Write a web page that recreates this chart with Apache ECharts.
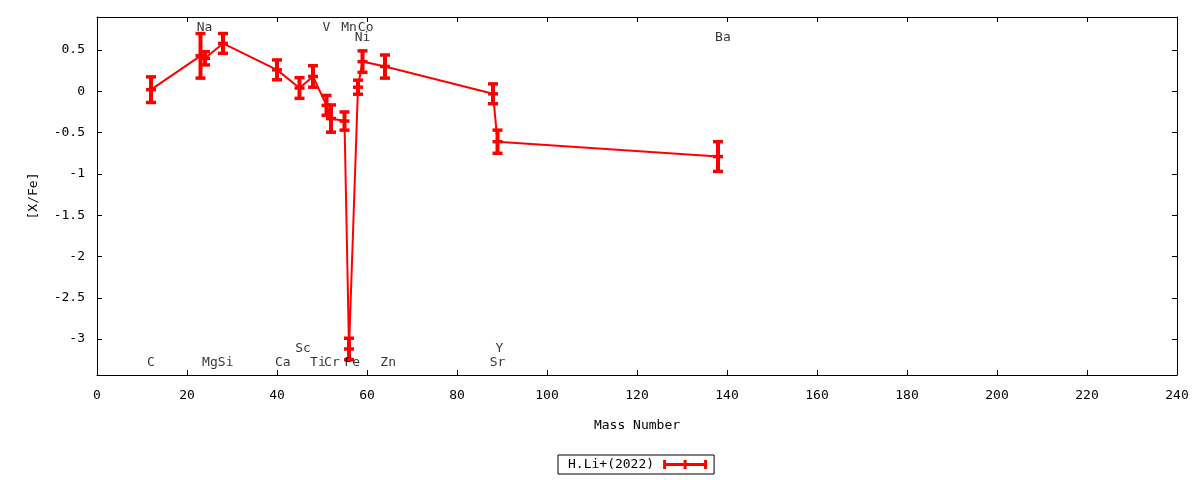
<!DOCTYPE html>
<html>
<head>
<meta charset="utf-8">
<script src="https://cdn.jsdelivr.net/npm/echarts@6/dist/echarts.min.js"></script>
<style>html,body{margin:0;padding:0;background:#fff}#c{width:1200px;height:480px}</style>
</head>
<body>
<div id="c"></div>
<script>
// ---- data ----
const seriesName = 'H.Li+(2022)';
const elements    = ['C','Na','Mg','Si','Ca','Sc','Ti','V','Cr','Mn','Fe','Ni','Co','Zn','Sr','Y','Ba'];
const massNumbers = [12, 23, 24, 28, 40, 45, 48, 51, 52, 55, 56, 58, 59, 64, 88, 89, 138];
const xFeValues   = [0.02, 0.43, 0.40, 0.58, 0.26, 0.04, 0.18, -0.17, -0.33, -0.36, -3.12, 0.05, 0.36, 0.30, -0.03, -0.61, -0.79];
const xFeErrors   = [0.155, 0.27, 0.08, 0.12, 0.12, 0.125, 0.13, 0.12, 0.165, 0.11, 0.13, 0.085, 0.13, 0.14, 0.12, 0.14, 0.18];
// element label placement (data coordinates)
const labelX = [12.0, 23.9, 25.1, 28.6, 41.3, 45.8, 49.1, 51.0, 52.2, 56.0, 56.7, 59.0, 59.7, 64.7, 89.0, 89.4, 139.1];
const labelY = [-3.29, 0.77, -3.29, -3.29, -3.29, -3.12, -3.29, 0.77, -3.29, 0.77, -3.29, 0.65, 0.77, -3.29, -3.29, -3.12, 0.65];
const yTickValues = [0.5, 0, -0.5, -1, -1.5, -2, -2.5, -3];
const xMin = 0, xMax = 240, xStep = 20;
const yMin = -3.435, yMax = 0.9;

const FONT = 'DejaVu Sans Mono';
const RED = '#ff0000';
const txt = {fontFamily: FONT, fontSize: 13, color: '#000'};

const chart = echarts.init(document.getElementById('c'), null, {renderer: 'canvas'});

const axisCommon = {
  axisLine: {show: true, onZero: false, lineStyle: {color: '#000', width: 1}},
  axisTick: {show: true, inside: true, length: 5, lineStyle: {color: '#000', width: 1}},
  splitLine: {show: false}
};

const option = {
  backgroundColor: '#fff',
  animation: false,
  grid: {left: 97, right: 23, top: 17, bottom: 105, containLabel: false},
  legend: {
    left: 558, top: 455,
    align: 'right',
    orient: 'horizontal',
    borderColor: '#000', borderWidth: 1, borderRadius: 0,
    padding: [3, 7, 3, 10],
    itemWidth: 44, itemHeight: 9,
    textStyle: Object.assign({padding: [0, 4, 0, 0]}, txt),
    itemStyle: {color: RED, borderWidth: 0},
    selectedMode: false,
    data: [{name: seriesName, icon: 'path://M0 0 L3 0 L3 3 L20.5 3 L20.5 0 L23.5 0 L23.5 3 L41 3 L41 0 L44 0 L44 9 L41 9 L41 6 L23.5 6 L23.5 9 L20.5 9 L20.5 6 L3 6 L3 9 L0 9 Z'}]
  },
  xAxis: [
    Object.assign({}, axisCommon, {
      type: 'value', min: xMin, max: xMax, interval: xStep, position: 'bottom',
      axisLabel: Object.assign({margin: 14}, txt),
      name: 'Mass Number', nameLocation: 'middle', nameGap: 44,
      nameTextStyle: Object.assign({}, txt)
    }),
    Object.assign({}, axisCommon, {
      type: 'value', min: xMin, max: xMax, interval: xStep, position: 'top',
      axisLabel: {show: false}
    })
  ],
  yAxis: [
    Object.assign({}, axisCommon, {
      type: 'value', min: yMin, max: yMax, position: 'left',
      axisTick: Object.assign({}, axisCommon.axisTick, {customValues: yTickValues}),
      axisLabel: Object.assign({margin: 12, customValues: yTickValues}, txt),
      name: '[X/Fe]', nameLocation: 'middle', nameGap: 57, nameRotate: 90,
      nameTextStyle: Object.assign({}, txt)
    }),
    Object.assign({}, axisCommon, {
      type: 'value', min: yMin, max: yMax, position: 'right',
      axisTick: Object.assign({}, axisCommon.axisTick, {customValues: yTickValues}),
      axisLabel: {show: false}
    })
  ],
  series: [
    {
      name: seriesName,
      type: 'line',
      xAxisIndex: 0, yAxisIndex: 0,
      data: massNumbers.map((m, i) => [m, xFeValues[i]]),
      symbol: 'none',
      lineStyle: {color: RED, width: 2},
      itemStyle: {color: RED},
      z: 2
    },
    {
      name: seriesName,
      type: 'custom',
      xAxisIndex: 0, yAxisIndex: 0,
      data: massNumbers.map((m, i) => [m, xFeValues[i], xFeErrors[i]]),
      itemStyle: {color: RED},
      z: 3,
      renderItem: function (params, api) {
        const x = api.value(0), y = api.value(1), e = api.value(2);
        const top = api.coord([x, y + e]);
        const bot = api.coord([x, y - e]);
        const mid = api.coord([x, y]);
        const hw = 5;
        const st = {stroke: RED, lineWidth: 4, fill: 'none'};
        const cst = {stroke: RED, lineWidth: 3.5, fill: 'none'};
        return {
          type: 'group',
          children: [
            {type: 'line', shape: {x1: top[0], y1: top[1], x2: bot[0], y2: bot[1]}, style: st},
            {type: 'line', shape: {x1: top[0] - hw, y1: top[1], x2: top[0] + hw, y2: top[1]}, style: cst},
            {type: 'line', shape: {x1: bot[0] - hw, y1: bot[1], x2: bot[0] + hw, y2: bot[1]}, style: cst},
            {type: 'line', shape: {x1: mid[0] - hw, y1: mid[1], x2: mid[0] + hw, y2: mid[1]}, style: cst}
          ]
        };
      }
    },
    {
      name: 'labels',
      type: 'scatter',
      xAxisIndex: 0, yAxisIndex: 0,
      silent: true,
      symbolSize: 0,
      itemStyle: {color: 'transparent'},
      data: elements.map((el, i) => ({name: el, value: [labelX[i], labelY[i]]})),
      label: Object.assign({show: true, position: 'inside', formatter: '{b}'}, txt),
      z: 4
    }
  ]
};
chart.setOption(option);
</script>
</body>
</html>
